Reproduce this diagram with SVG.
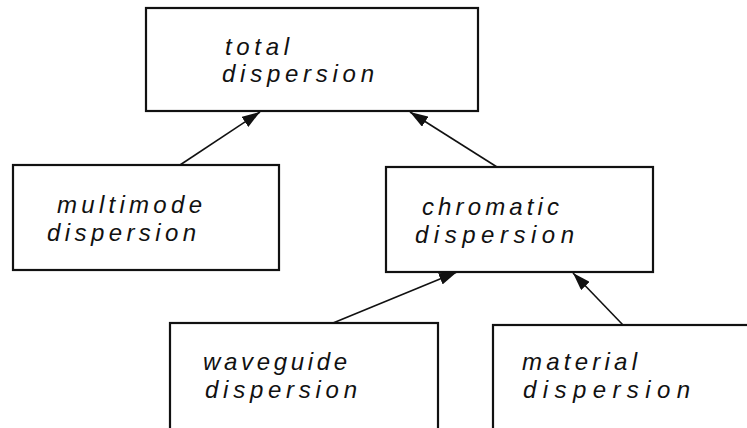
<svg xmlns="http://www.w3.org/2000/svg" width="747" height="428" viewBox="0 0 747 428">
<style>
.box{fill:#fff;stroke:#111;stroke-width:2.2}
.lbl{font-family:"Liberation Sans",Arial,sans-serif;font-style:italic;font-size:24px;fill:#111}
.con{stroke:#111;stroke-width:1.6;fill:none;marker-end:url(#ah)}
</style>
<defs>
<marker id="ah" markerUnits="userSpaceOnUse" markerWidth="18" markerHeight="12" refX="18" refY="6" orient="auto">
<path d="M0,0 L18,6 L0,12 z" fill="#111"/>
</marker>
</defs>
<rect width="747" height="428" fill="#fff"/>
<g id="total">
<rect class="box" x="146" y="8" width="332" height="103"/>
<text class="lbl" x="225" y="55" textLength="64" lengthAdjust="spacing">total</text>
<text class="lbl" x="222" y="82" textLength="152" lengthAdjust="spacing">dispersion</text>
</g>
<g id="multimode">
<rect class="box" x="13" y="165" width="266" height="105"/>
<text class="lbl" x="57" y="213" textLength="145" lengthAdjust="spacing">multimode</text>
<text class="lbl" x="47" y="241" textLength="149" lengthAdjust="spacing">dispersion</text>
</g>
<g id="chromatic">
<rect class="box" x="386" y="167" width="267" height="105"/>
<text class="lbl" x="422" y="215" textLength="137" lengthAdjust="spacing">chromatic</text>
<text class="lbl" x="415" y="243" textLength="159" lengthAdjust="spacing">dispersion</text>
</g>
<g id="waveguide">
<rect class="box" x="170" y="323" width="268" height="120"/>
<text class="lbl" x="203" y="370" textLength="144" lengthAdjust="spacing">waveguide</text>
<text class="lbl" x="205" y="398" textLength="152" lengthAdjust="spacing">dispersion</text>
</g>
<g id="material">
<rect class="box" x="493" y="325" width="270" height="120"/>
<text class="lbl" x="522" y="370" textLength="115" lengthAdjust="spacing">material</text>
<text class="lbl" x="523" y="398" textLength="167" lengthAdjust="spacing">dispersion</text>
</g>
<g id="connectors">
<line class="con" x1="180" y1="165" x2="260" y2="112"/>
<line class="con" x1="497" y1="167" x2="410" y2="112"/>
<line class="con" x1="333" y1="323" x2="457" y2="272"/>
<line class="con" x1="623" y1="325" x2="573" y2="273"/>
</g>
</svg>
